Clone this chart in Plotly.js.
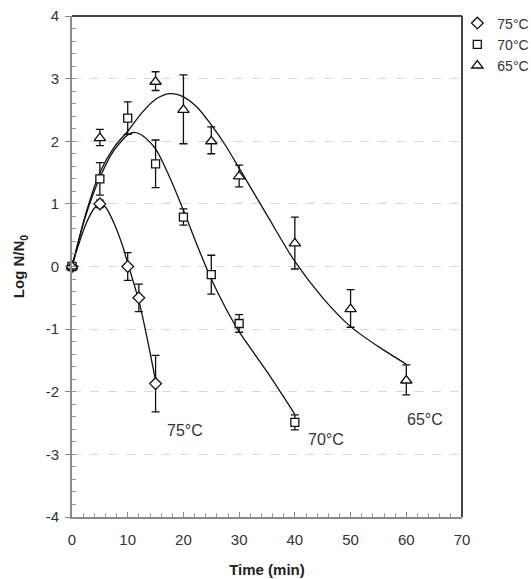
<!DOCTYPE html>
<html>
<head>
<meta charset="utf-8">
<script src="https://cdn.plot.ly/plotly-3.0.1.min.js"></script>
<style>html,body{margin:0;padding:0;background:#fff;}#chart{width:531px;height:579px;}</style>
</head>
<body>
<div id="chart"></div>
<script>
// ---- measured data (Log N/N0 vs time, min) ----
const time75 = [0, 5, 10, 12, 15];
const logN75 = [0, 1.0, 0.0, -0.5, -1.87];
const errUp75 = [0, 0.06, 0.22, 0.22, 0.45];
const errDn75 = [0, 0.06, 0.22, 0.22, 0.45];

const time70 = [0, 5, 10, 15, 20, 25, 30, 40];
const logN70 = [0, 1.4, 2.37, 1.64, 0.79, -0.13, -0.91, -2.49];
const errUp70 = [0, 0.26, 0.26, 0.38, 0.13, 0.31, 0.14, 0.12];
const errDn70 = [0, 0.26, 0.26, 0.38, 0.13, 0.31, 0.14, 0.12];

const time65 = [0, 5, 15, 20, 25, 30, 40, 50, 60];
const logN65 = [0, 2.05, 2.95, 2.5, 2.0, 1.44, 0.37, -0.68, -1.82];
const errUp65 = [0, 0.14, 0.16, 0.56, 0.23, 0.18, 0.42, 0.31, 0.25];
const errDn65 = [0, 0.12, 0.14, 0.54, 0.2, 0.17, 0.41, 0.29, 0.23];

// fitted model curves
const fitTime75 = [0, 1, 2.5, 4, 5, 6, 7.5, 9, 10, 12, 13.5, 15];
const fitLog75 = [0, 0.3, 0.68, 0.93, 1.0, 0.95, 0.7, 0.35, 0.05, -0.55, -1.15, -1.82];

const fitTime70 = [0, 2.5, 5, 7.5, 10, 11, 12.5, 15, 17.5, 20, 22.5, 25, 27.5, 30, 35, 40];
const fitLog70 = [0, 0.82, 1.42, 1.85, 2.1, 2.14, 2.1, 1.88, 1.43, 0.9, 0.33, -0.2, -0.65, -1.04, -1.68, -2.36];

const fitTime65 = [0, 2.5, 5, 7.5, 10, 12.5, 15, 17.5, 20, 22.5, 25, 27.5, 30, 35, 40, 45, 50, 55, 60];
const fitLog65 = [0, 0.85, 1.5, 1.9, 2.16, 2.45, 2.67, 2.76, 2.71, 2.54, 2.26, 1.94, 1.57, 0.82, 0.08, -0.5, -0.96, -1.28, -1.56];

const seriesNames = ['75°C', '70°C', '65°C'];
const curveLabels = ['75°C', '70°C', '65°C'];
const yTickVals = [-4, -3, -2, -1, 0, 1, 2, 3, 4];
const yTickText = ['-4', '-3', '-2', '-1', '0', '1', '2', '3', '4'];
const xTickVals = [0, 10, 20, 30, 40, 50, 60, 70];

const FONT = 'Liberation Sans, Arial, Helvetica, sans-serif';
const lineStyle = {color: '#111', width: 1.3, shape: 'spline', smoothing: 0.8};

function curve(x, y) {
  return {x: x, y: y, type: 'scatter', mode: 'lines', line: lineStyle,
          showlegend: false, hoverinfo: 'skip', cliponaxis: false};
}
function pts(x, y, up, dn, name, symbol, size) {
  return {
    x: x, y: y, name: name, type: 'scatter', mode: 'markers', cliponaxis: false,
    marker: {symbol: symbol, size: size, color: '#fff', line: {color: '#111', width: 1.3}},
    error_y: {type: 'data', symmetric: false, array: up, arrayminus: dn,
              color: '#111', thickness: 1.3, width: 4}
  };
}

const data = [
  curve(fitTime75, fitLog75),
  curve(fitTime70, fitLog70),
  curve(fitTime65, fitLog65),
  pts(time75, logN75, errUp75, errDn75, seriesNames[0], 'diamond', 9),
  pts(time70, logN70, errUp70, errDn70, seriesNames[1], 'square', 8),
  pts(time65, logN65, errUp65, errDn65, seriesNames[2], 'triangle-up', 10)
];

const layout = {
  width: 531, height: 579,
  margin: {l: 72, r: 69, t: 16, b: 62, autoexpand: false},
  paper_bgcolor: '#fff', plot_bgcolor: '#fff',
  font: {family: FONT, size: 15, color: '#333'},
  showlegend: true,
  legend: {x: 0.988, xanchor: 'left', y: 1.017, yanchor: 'top',
           font: {family: FONT, size: 14, color: '#333'},
           bgcolor: 'rgba(0,0,0,0)', tracegroupgap: 0, itemwidth: 30},
  xaxis: {
    range: [0, 70], tickvals: xTickVals, ticks: 'inside', ticklen: 5, tickcolor: '#888', tickwidth: 1,
    minor: {dtick: 2, ticks: 'inside', ticklen: 4, tickcolor: '#999', tickwidth: 1},
    showline: true, linecolor: '#8a8a8a', linewidth: 2,
    showgrid: false, zeroline: false, ticklabelstandoff: 8,
    tickfont: {family: FONT, size: 15, color: '#333'},
    title: {text: '<b>Time (min)</b>', font: {family: FONT, size: 15, color: '#222'}, standoff: 17}
  },
  yaxis: {
    range: [-4, 4], tickvals: yTickVals, ticktext: yTickText, ticks: 'outside', ticklen: 5,
    tickcolor: '#888', tickwidth: 1,
    minor: {dtick: 0.2, ticks: 'inside', ticklen: 4, tickcolor: '#999', tickwidth: 1, showgrid: false},
    showline: true, linecolor: '#8a8a8a', linewidth: 2,
    showgrid: true, gridcolor: '#d8d8d8', griddash: 'dash', gridwidth: 1,
    zeroline: false, ticklabelstandoff: 3,
    tickfont: {family: FONT, size: 15, color: '#333'},
    title: {text: '<b>Log N/N<sub>0</sub></b>', font: {family: FONT, size: 15, color: '#222'}, standoff: 17}
  },
  shapes: [
    {type: 'line', xref: 'paper', yref: 'paper', x0: 0, x1: 1, y0: 1, y1: 1, line: {color: '#444', width: 2}},
    {type: 'line', xref: 'paper', yref: 'paper', x0: 1, x1: 1, y0: 0, y1: 1, line: {color: '#444', width: 2}}
  ],
  annotations: [
    {x: 20.3, y: -2.62, xref: 'x', yref: 'y', text: curveLabels[0], showarrow: false, font: {family: FONT, size: 16, color: '#333'}},
    {x: 45.5, y: -2.76, xref: 'x', yref: 'y', text: curveLabels[1], showarrow: false, font: {family: FONT, size: 16, color: '#333'}},
    {x: 63.3, y: -2.44, xref: 'x', yref: 'y', text: curveLabels[2], showarrow: false, font: {family: FONT, size: 16, color: '#333'}}
  ]
};

Plotly.newPlot('chart', data, layout, {staticPlot: true, displayModeBar: false});
</script>
</body>
</html>
